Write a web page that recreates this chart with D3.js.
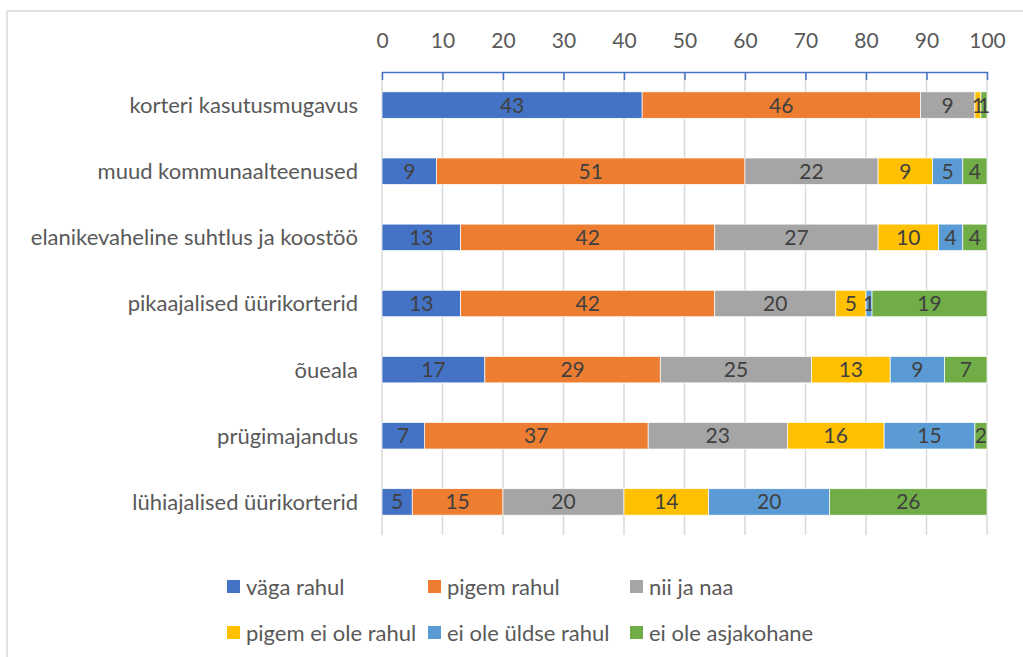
<!DOCTYPE html>
<html>
<head>
<meta charset="utf-8">
<script src="https://cdn.jsdelivr.net/npm/d3@7"></script>
<style>
  body { margin: 0; background: #fff; }
  svg { display: block; }
</style>
</head>
<body>
<svg id="chart" width="1023" height="657"></svg>
<script>
// categories, top to bottom
var categories = ["korteri kasutusmugavus", "muud kommunaalteenused", "elanikevaheline suhtlus ja koostöö",
  "pikaajalised üürikorterid", "õueala", "prügimajandus", "lühiajalised üürikorterid"];
var seriesNames = ["väga rahul", "pigem rahul", "nii ja naa", "pigem ei ole rahul", "ei ole üldse rahul", "ei ole asjakohane"];
var seriesColors = ["#4472C4", "#ED7D31", "#A5A5A5", "#FFC000", "#5B9BD5", "#70AD47"];

var vagaRahul      = [43, 9, 13, 13, 17, 7, 5];
var pigemRahul     = [46, 51, 42, 42, 29, 37, 15];
var niiJaNaa       = [9, 22, 27, 20, 25, 23, 20];
var pigemEiOle     = [1, 9, 10, 5, 13, 16, 14];
var eiOleYldse     = [0, 5, 4, 1, 9, 15, 20];
var eiOleAsjakohane = [1, 4, 4, 19, 7, 2, 26];
var xTicks = [0, 10, 20, 30, 40, 50, 60, 70, 80, 90, 100];

var seriesValues = [vagaRahul, pigemRahul, niiJaNaa, pigemEiOle, eiOleYldse, eiOleAsjakohane];

var rows = categories.map(function (c, i) {
  var r = { cat: c };
  seriesNames.forEach(function (s, j) { r[s] = seriesValues[j][i]; });
  return r;
});

var svg = d3.select("#chart");
var font = "Lato, 'Open Sans', sans-serif";

// chart border
svg.append("rect")
  .attr("x", 7).attr("y", 11)
  .attr("width", 1100).attr("height", 700)
  .style("fill", "none").style("stroke", "#d9d9d9").style("stroke-width", 1.5);

var x = d3.scaleLinear().domain([0, 100]).range([382, 987]);
var y = d3.scaleBand().domain(categories).range([72, 535]).paddingInner(0.6).paddingOuter(0.3);

// gridlines
svg.selectAll(".grid").data(xTicks).enter()
  .append("line")
    .attr("class", "grid")
    .attr("x1", function (d) { return x(d); })
    .attr("x2", function (d) { return x(d); })
    .attr("y1", 72).attr("y2", 535)
    .style("stroke", "#d9d9d9").style("stroke-width", 1.5);

// top axis
var axis = d3.axisTop(x).tickValues(xTicks).tickSizeInner(-8).tickSizeOuter(0).tickPadding(24);
var ag = svg.append("g").attr("transform", "translate(0,72)").call(axis);
ag.select(".domain").style("stroke", "#4472C4").style("stroke-width", 1.5);
ag.selectAll(".tick line").style("stroke", "#4472C4").style("stroke-width", 1.5);
ag.selectAll(".tick text")
  .attr("font-family", font).attr("font-size", "21px")
  .style("fill", "#595959");

// stacked bars
var stack = d3.stack().keys(seriesNames);
var layers = stack(rows);

var lg = svg.selectAll(".layer").data(layers).enter()
  .append("g")
    .attr("class", "layer")
    .style("fill", function (d, i) { return seriesColors[i]; });

lg.selectAll("rect").data(function (d) { return d; }).enter()
  .append("rect")
    .attr("x", function (d) { return x(d[0]); })
    .attr("y", function (d) { return y(d.data.cat); })
    .attr("width", function (d) { return x(d[1]) - x(d[0]); })
    .attr("height", y.bandwidth())
    .style("stroke", "#fff").style("stroke-width", 0.7);

lg.selectAll("text").data(function (d) { return d; }).enter()
  .filter(function (d) { return d[1] - d[0] > 0; })
  .append("text")
    .attr("x", function (d) { return (x(d[0]) + x(d[1])) / 2; })
    .attr("y", function (d) { return y(d.data.cat) + y.bandwidth() / 2; })
    .attr("dy", "0.36em")
    .attr("text-anchor", "middle")
    .attr("font-family", font).attr("font-size", "21px")
    .style("fill", "#404040")
    .text(function (d) { return d[1] - d[0]; });

// category labels
svg.selectAll(".catLabel").data(categories).enter()
  .append("text")
    .attr("class", "catLabel")
    .attr("x", 358)
    .attr("y", function (d) { return y(d) + y.bandwidth() / 2; })
    .attr("dy", "0.36em")
    .attr("text-anchor", "end")
    .attr("font-family", font).attr("font-size", "22px")
    .style("fill", "#595959")
    .text(function (d) { return d; });

// legend
var legX = [227, 428, 630];
var legY = [587, 633];
var leg = svg.selectAll(".legend").data(seriesNames).enter()
  .append("g")
    .attr("class", "legend")
    .attr("transform", function (d, i) { return "translate(" + legX[i % 3] + "," + legY[Math.floor(i / 3)] + ")"; });
leg.append("rect")
  .attr("x", 0).attr("y", -7)
  .attr("width", 13).attr("height", 13)
  .style("fill", function (d, i) { return seriesColors[i]; });
leg.append("text")
  .attr("x", 19).attr("y", 0)
  .attr("dy", "0.36em")
  .attr("font-family", font).attr("font-size", "22px")
  .style("fill", "#595959")
  .text(function (d) { return d; });
</script>
</body>
</html>
